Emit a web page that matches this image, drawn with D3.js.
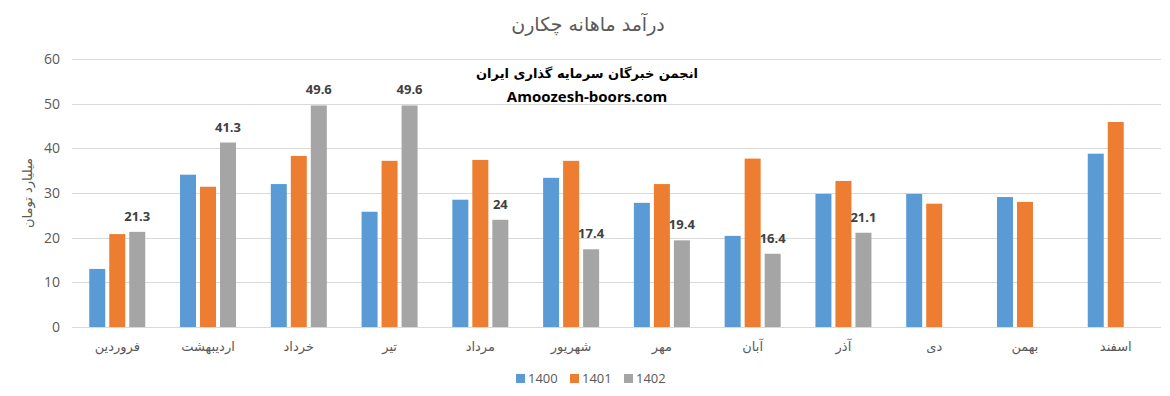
<!DOCTYPE html>
<html>
<head>
<meta charset="utf-8">
<script src="https://cdn.jsdelivr.net/npm/d3@7"></script>
<style>
  body { margin: 0; background: #fff; }
  svg { display: block; }
  .fa { font-family: "DejaVu Sans", sans-serif; }
  .num { font-family: "Open Sans", "DejaVu Sans", sans-serif; }
</style>
</head>
<body>
<div id="chart"></div>
<script>
// months (right-to-left order as shown, leftmost first)
var categories = ["فروردین","اردیبهشت","خرداد","تیر","مرداد","شهریور","مهر","آبان","آذر","دی","بهمن","اسفند"];
var seriesNames = ["1400","1401","1402"];
var values1400 = [13.0, 34.1, 32.0, 25.8, 28.5, 33.4, 27.8, 20.4, 29.8, 29.8, 29.1, 38.8];
var values1401 = [20.8, 31.4, 38.3, 37.2, 37.4, 37.2, 32.0, 37.7, 32.7, 27.6, 28.0, 45.9];
var values1402 = [21.3, 41.3, 49.6, 49.6, 24, 17.4, 19.4, 16.4, 21.1, null, null, null];
var yTicks = [0, 10, 20, 30, 40, 50, 60];
var colors = ["#5b9bd5", "#ed7d31", "#a5a5a5"];

var width = 1170, height = 396;
var plotLeft = 72, plotRight = 1161, plotTop = 59, plotBottom = 327;

var svg = d3.select("#chart").append("svg")
    .attr("width", width)
    .attr("height", height);

var allSeries = [values1400, values1401, values1402];
var data = categories.map(function(c, i){
    return { cat: c, vals: allSeries.map(function(s, j){ return { name: seriesNames[j], v: s[i], idx: j }; }) };
});

var x0 = d3.scaleBand().domain(categories).range([plotLeft, plotRight]).paddingInner(0.383).paddingOuter(0.19);
var x1 = d3.scaleBand().domain(seriesNames).range([0, x0.bandwidth()]).paddingInner(0.2);
var y = d3.scaleLinear().domain([0, 60]).range([plotBottom, plotTop]);

// gridlines
svg.append("g").selectAll("line")
    .data(yTicks)
    .enter().append("line")
    .attr("x1", plotLeft).attr("x2", plotRight)
    .attr("y1", function(d){ return Math.round(y(d)) + 0.5; })
    .attr("y2", function(d){ return Math.round(y(d)) + 0.5; })
    .attr("stroke", "#d9d9d9")
    .attr("stroke-width", 1);

// y tick labels
svg.append("g").selectAll("text")
    .data(yTicks)
    .enter().append("text")
    .attr("class", "num")
    .attr("x", 60)
    .attr("y", function(d){ return y(d); })
    .attr("dy", "0.35em")
    .attr("text-anchor", "end")
    .attr("font-size", 14)
    .attr("fill", "#595959")
    .text(function(d){ return d; });

// y axis title
svg.append("text")
    .attr("class", "fa")
    .attr("transform", "translate(32," + 193 + ") rotate(-90)")
    .attr("text-anchor", "middle")
    .attr("font-size", 13)
    .attr("fill", "#595959")
    .text("میلیارد تومان");

// bars
var groups = svg.append("g").selectAll("g")
    .data(data)
    .enter().append("g")
    .attr("transform", function(d){ return "translate(" + x0(d.cat) + ",0)"; });

groups.selectAll("rect")
    .data(function(d){ return d.vals.filter(function(v){ return v.v != null; }); })
    .enter().append("rect")
    .attr("x", function(d){ return x1(d.name); })
    .attr("y", function(d){ return y(d.v); })
    .attr("width", x1.bandwidth())
    .attr("height", function(d){ return plotBottom - y(d.v); })
    .attr("fill", function(d){ return colors[d.idx]; });

// data labels on 1402
groups.selectAll("text.lbl")
    .data(function(d){ return d.vals.filter(function(v){ return v.name === "1402" && v.v != null; }); })
    .enter().append("text")
    .attr("class", "lbl num")
    .attr("x", function(d){ return x1(d.name) + x1.bandwidth() / 2; })
    .attr("y", function(d){ return y(d.v) - 11; })
    .attr("text-anchor", "middle")
    .attr("font-size", 13)
    .attr("font-weight", "bold")
    .attr("fill", "#404040")
    .text(function(d){ return d.v; });

// category labels
svg.append("g").selectAll("text")
    .data(categories)
    .enter().append("text")
    .attr("class", "fa")
    .attr("x", function(d){ return x0(d) + x0.bandwidth() / 2; })
    .attr("y", 351)
    .attr("text-anchor", "middle")
    .attr("font-size", 13)
    .attr("fill", "#595959")
    .text(function(d){ return d; });

// title
svg.append("text")
    .attr("class", "fa")
    .attr("x", 588)
    .attr("y", 31)
    .attr("text-anchor", "middle")
    .attr("font-size", 19)
    .attr("fill", "#595959")
    .text("درآمد ماهانه چکارن");

// watermark
svg.append("text")
    .attr("class", "fa")
    .attr("x", 587)
    .attr("y", 78)
    .attr("text-anchor", "middle")
    .attr("font-size", 13)
    .attr("font-weight", "bold")
    .attr("fill", "#000")
    .text("انجمن خبرگان سرمایه گذاری ایران");

svg.append("text")
    .attr("class", "num")
    .attr("x", 587)
    .attr("y", 102)
    .attr("text-anchor", "middle")
    .attr("font-size", 15)
    .attr("font-weight", "bold")
    .attr("fill", "#000")
    .text("Amoozesh-boors.com");

// legend
var legend = svg.append("g").selectAll("g")
    .data(seriesNames)
    .enter().append("g")
    .attr("transform", function(d, i){ return "translate(" + (516 + i * 54) + ",374)"; });

legend.append("rect")
    .attr("width", 9).attr("height", 9)
    .attr("fill", function(d, i){ return colors[i]; });

legend.append("text")
    .attr("class", "num")
    .attr("x", 12)
    .attr("y", 4.5)
    .attr("dy", "0.35em")
    .attr("font-size", 13)
    .attr("fill", "#595959")
    .text(function(d){ return d; });
</script>
</body>
</html>
